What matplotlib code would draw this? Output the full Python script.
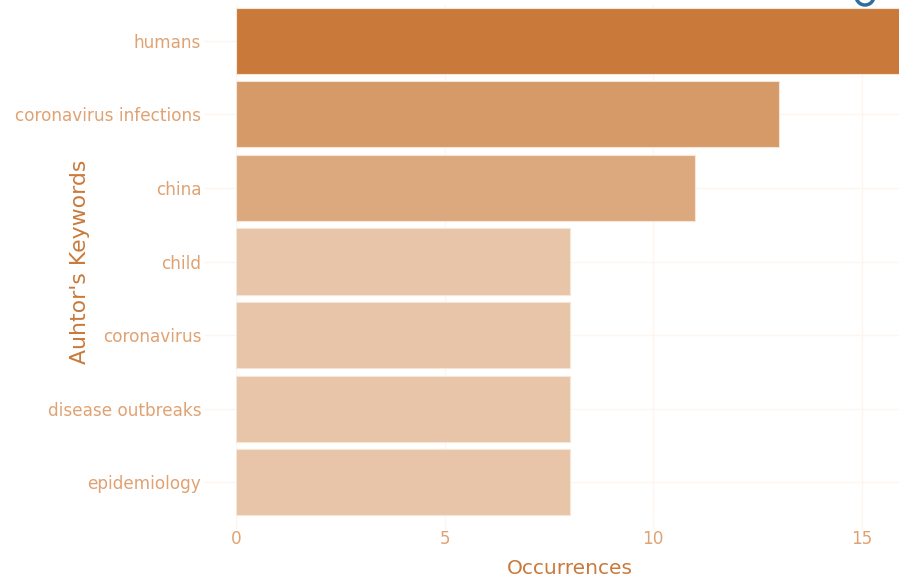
import matplotlib
matplotlib.use("Agg")
import matplotlib.pyplot as plt
from matplotlib.patches import Arc

keywords = ["humans", "coronavirus infections", "china", "child",
            "coronavirus", "disease outbreaks", "epidemiology"]
occurrences = [16, 13, 11, 8, 8, 8, 8]
bar_colors = ["#C97A3B", "#D59A68", "#DCA97E", "#E8C5A9",
              "#E8C5A9", "#E8C5A9", "#E8C5A9"]
x_ticks = [0, 5, 10, 15]

W, H = 899, 582
fig = plt.figure(figsize=(W / 100, H / 100), dpi=100)
fig.patch.set_facecolor("white")
ax = fig.add_axes([236 / W, 1 - 519 / H, 1 - 236 / W, (519 - 4) / H])
ax.set_facecolor("white")

pos = list(range(len(keywords)))
ax.barh(pos, occurrences, height=0.9, color=bar_colors,
        edgecolor="#F6E6D8", linewidth=0.8, zorder=2)

ax.set_ylim(len(keywords) - 0.5, -0.5)
ax.set_xlim(0, (899 - 236) / ((862 - 236) / 15))
ax.set_yticks(pos)
ax.set_yticklabels(keywords)
ax.set_xticks(x_ticks)

grid_c = "#FDF6F0"
ax.grid(True, axis="both", color=grid_c, linewidth=1.0, zorder=0)
for s in ax.spines.values():
    s.set_visible(False)

tick_c = "#E0A272"
ax.tick_params(axis="y", length=23, width=1.0, color=grid_c, pad=2,
               labelsize=12.2, labelcolor=tick_c)
ax.tick_params(axis="x", length=7, width=1.0, color=grid_c, pad=1,
               labelsize=12.2, labelcolor=tick_c)

title_c = "#C97A3B"
ax.set_xlabel("Occurrences", fontsize=14.5, color=title_c)
ax.set_ylabel("Auhtor's Keywords", fontsize=15.8, color=title_c)
ax.xaxis.set_label_coords((570 - 236) / (W - 236), (519 - 569) / 515)
ax.yaxis.set_label_coords((80 - 236) / (W - 236), (519 - 262) / 515)
ax.xaxis.label.set_va("center")
ax.yaxis.label.set_va("center")

# partially visible toolbar icon in the top-right corner
fig.patches.append(Arc((865 / W, 1 - (-4) / H), 18 / W, 18 / H, theta1=210,
                       theta2=330, transform=fig.transFigure,
                       color="#2F6E9C", linewidth=2.5))

fig.savefig("out.png", dpi=100, facecolor="white")
